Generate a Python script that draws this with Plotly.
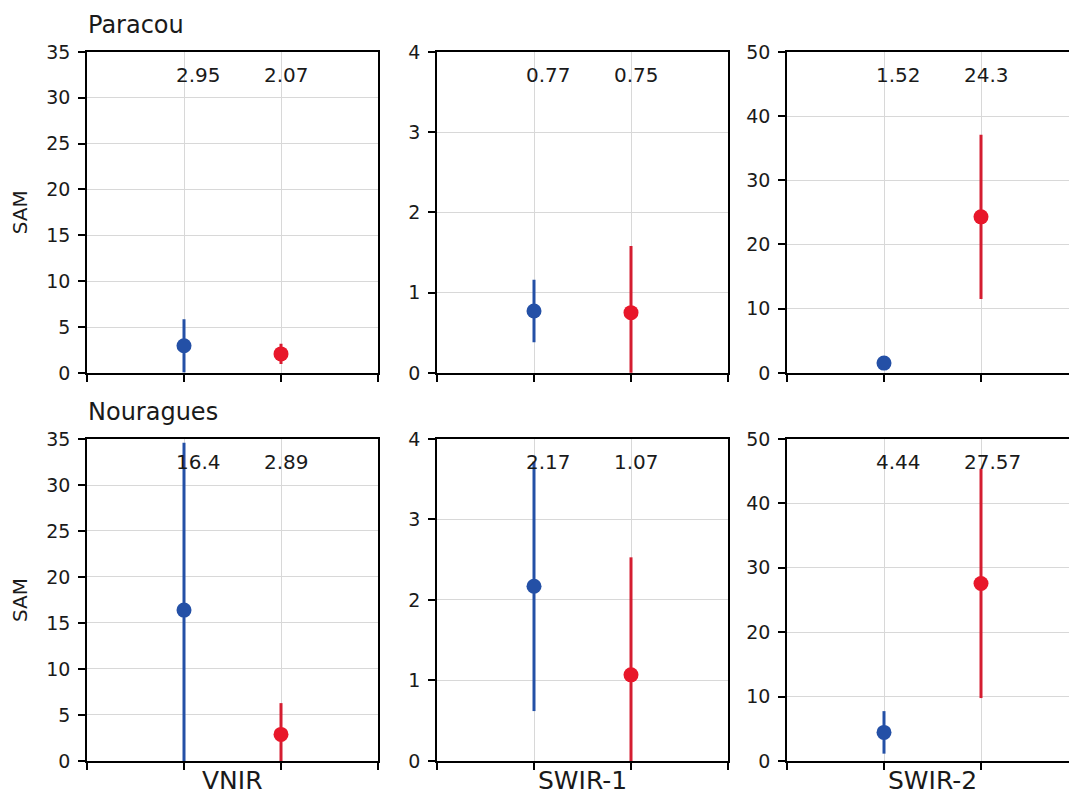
import plotly.graph_objects as go

sites = ["Paracou", "Nouragues"]
bands = ["VNIR", "SWIR-1", "SWIR-2"]
groups = [0, 1]  # blue group, red group positions on the categorical axis

# per site, per band
blue_mean = {"Paracou": [2.95, 0.77, 1.52], "Nouragues": [16.4, 2.17, 4.44]}
blue_std = {"Paracou": [2.9, 0.39, 0.6], "Nouragues": [18.2, 1.55, 3.3]}
red_mean = {"Paracou": [2.07, 0.75, 24.3], "Nouragues": [2.89, 1.07, 27.57]}
red_std = {"Paracou": [1.1, 0.83, 12.8], "Nouragues": [3.4, 1.46, 17.8]}

y_max = [35, 4, 50]
y_dtick = [5, 1, 10]

W, H = 1069, 807
BLUE = "#2450A6"
RED = "#E8172A"
RED_LINE = "#D41D30"
FONT = "DejaVu Sans"
TXT = "#1a1a1a"

col_px = [(87, 378), (437, 728), (787, 1069)]
row_px = [(42, 372), (440, 771)]
unit_px = 97.0

fig = go.Figure()
layout = dict(
    width=W, height=H, margin=dict(l=0, r=0, t=0, b=0, pad=0), autosize=False,
    paper_bgcolor="white", plot_bgcolor="white", showlegend=False,
    font=dict(family=FONT, color=TXT, size=19),
)
annotations = []

idx = 0
for r, site in enumerate(sites):
    for c, band in enumerate(bands):
        idx += 1
        xa = "x" if idx == 1 else f"x{idx}"
        ya = "y" if idx == 1 else f"y{idx}"
        xk = "xaxis" if idx == 1 else f"xaxis{idx}"
        yk = "yaxis" if idx == 1 else f"yaxis{idx}"
        x0, x1 = col_px[c]
        y0, y1 = row_px[r]
        xr_max = -1 + (x1 - x0) / unit_px
        layout[xk] = dict(
            domain=[x0 / W, x1 / W], anchor=ya, range=[-1, xr_max],
            tickmode="array", tickvals=[-1, 0, 1, 2], showticklabels=False,
            ticks="outside", ticklen=7, tickwidth=1.5, tickcolor="black",
            showline=True, linecolor="black", linewidth=1.5, mirror=True,
            showgrid=True, gridcolor="#d8d8d8", gridwidth=1, zeroline=False,
            fixedrange=True,
        )
        layout[yk] = dict(
            domain=[1 - y1 / H, 1 - y0 / H], anchor=xa, range=[0, y_max[c]],
            tickmode="linear", tick0=0, dtick=y_dtick[c],
            ticks="outside", ticklen=7, tickwidth=1.5, tickcolor="black",
            ticklabelstandoff=4,
            tickfont=dict(family=FONT, size=19, color=TXT),
            showline=True, linecolor="black", linewidth=1.5,
            mirror=(c < 2),
            showgrid=True, gridcolor="#d8d8d8", gridwidth=1, zeroline=False,
            fixedrange=True,
        )
        bm, bs = blue_mean[site][c], blue_std[site][c]
        rm, rs = red_mean[site][c], red_std[site][c]
        fig.add_trace(go.Scatter(
            x=[groups[0]], y=[bm], xaxis=xa, yaxis=ya, mode="markers",
            marker=dict(color=BLUE, size=15),
            error_y=dict(type="data", array=[bs], visible=True, color=BLUE,
                         thickness=3, width=0),
        ))
        fig.add_trace(go.Scatter(
            x=[groups[1]], y=[rm], xaxis=xa, yaxis=ya, mode="markers",
            marker=dict(color=RED, size=15),
            error_y=dict(type="data", array=[rs], visible=True, color=RED_LINE,
                         thickness=3, width=0),
        ))
        for gx, val in zip([-0.1, 0.8], [bm, rm]):
            annotations.append(dict(
                x=gx, y=0.9, xref=xa, yref=f"{ya} domain",
                text=str(val), showarrow=False, xanchor="left", yanchor="bottom",
                yshift=-5, font=dict(family=FONT, size=20, color=TXT),
            ))
        if r == 1:
            annotations.append(dict(
                x=(x0 + x0 + 3 * unit_px) / 2 / W, y=1 - 808 / H, xref="paper", yref="paper",
                text=band, showarrow=False, xanchor="center", yanchor="bottom",
                font=dict(family=FONT, size=25, color=TXT),
            ))
    # site title
    annotations.append(dict(
        x=86 / W, y=1 - (row_px[r][0] - 11) / H, xref="paper", yref="paper",
        text=site, showarrow=False, xanchor="left", yanchor="bottom",
        font=dict(family=FONT, size=24, color=TXT),
    ))
    annotations.append(dict(
        x=20 / W, y=1 - (sum(row_px[r]) / 2) / H, xref="paper", yref="paper",
        text="SAM", showarrow=False, textangle=-90, xanchor="center", yanchor="middle",
        font=dict(family=FONT, size=20, color=TXT),
    ))

layout["annotations"] = annotations
fig.update_layout(**layout)
fig.write_html("out.html")
